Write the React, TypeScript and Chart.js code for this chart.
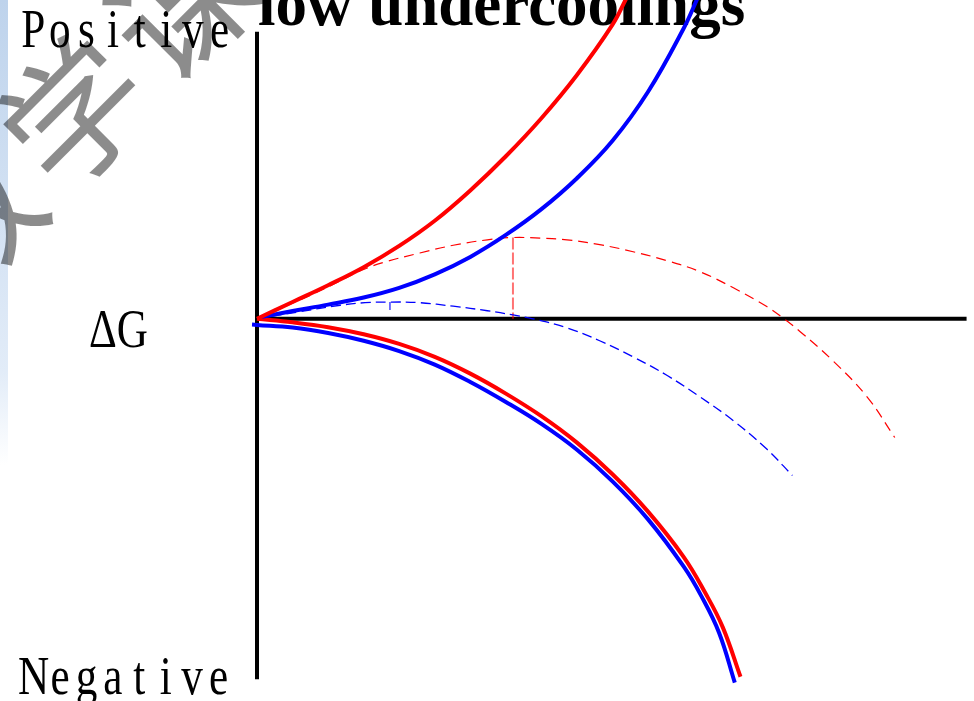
import React, { useEffect, useRef } from "react";
import { Chart, registerables } from "chart.js";

Chart.register(...registerables);

// Embryo radius r (arbitrary units) against free energy ΔG (arbitrary units).
// Surface-energy contributions (positive)
const redSurface: [number, number][] = [
  [0, 0], [5, 2.6], [10, 5.2], [15, 8.0], [20, 11.3], [25, 15.2], [30, 19.9],
  [35, 25.2], [40, 31.1], [45, 37.8], [50, 45.6], [52, 49.8],
];
const blueSurface: [number, number][] = [
  [0.7, 0.3], [5, 1.2], [10, 2.2], [15, 3.3], [20, 4.8], [25, 6.9], [30, 9.6],
  [35, 13.0], [40, 17.0], [45, 21.8], [50, 27.6], [55, 35.2], [60, 45.0], [62, 49.8],
];
// Volume free-energy contributions (negative)
const redVolume: [number, number][] = [
  [0, 0], [5, -0.55], [10, -1.3], [15, -2.4], [20, -3.9], [25, -5.9], [30, -8.5],
  [35, -11.6], [40, -15.1], [45, -19.2], [50, -24.1], [55, -29.9], [60, -36.9],
  [63, -42.4], [65.5, -47.8], [68, -55.5],
];
const blueVolume: [number, number][] = [
  [-0.7, -0.9], [0, -0.95], [5, -1.35], [10, -2.2], [15, -3.4], [20, -5.0],
  [25, -7.1], [30, -9.8], [35, -12.9], [40, -16.3], [45, -20.3], [50, -25.2],
  [55, -31.1], [60, -38.4], [62.5, -43.0], [65, -48.7], [67.2, -56.4],
];
// Total free energy of an embryo (dashed)
const redTotal: [number, number][] = [
  [0, 0], [5.6, 2.7], [10.3, 5.1], [14.9, 7.6], [18.3, 8.9], [22.9, 10.2],
  [27.6, 11.4], [32.4, 12.25], [36.0, 12.6], [39.8, 12.5], [43.6, 12.25],
  [48.2, 11.5], [52.9, 10.4], [57.7, 9.0], [62.3, 7.3], [67.0, 4.8], [71.7, 1.9],
  [74.0, 0.1], [76.4, -2.0], [81.0, -6.5], [85.8, -12.1], [89.7, -18.4],
];
const blueTotal: [number, number][] = [
  [0, 0], [6.0, 1.1], [11.7, 2.1], [15.2, 2.5], [18.7, 2.6], [22.9, 2.5],
  [27.6, 1.95], [32.4, 1.25], [36.0, 0.6], [38.8, 0], [43.6, -1.4], [48.2, -3.4],
  [52.9, -5.9], [57.7, -8.8], [62.3, -12.1], [67.0, -15.8], [71.7, -20.2],
  [75.3, -24.3],
];
// Critical radii: maxima of the total curves
const redCritical: [number, number][] = [[36.0, 12.6], [36.0, 0]];
const blueCritical: [number, number][] = [[18.7, 2.6], [18.7, 0]];

// Axis extents
const X_MIN = 0;
const X_MAX = 100;
const Y_MIN = -56;
const Y_MAX = 44;
const rAxis: [number, number][] = [[0, 0], [99.8, 0]];
const gAxis: [number, number][] = [[0, -55.9], [0, 44.5]];

const TITLE = "low undercoolings";
const POSITIVE = "Positive";
const NEGATIVE = "Negative";
const DELTA_G = "ΔG";
const WATERMARK = "教学课件";

const pts = (a: [number, number][]) => a.map(([x, y]) => ({ x, y }));

function spaced(
  ctx: CanvasRenderingContext2D,
  text: string,
  x0: number,
  adv: number,
  baseline: number,
  sx: number
) {
  for (let i = 0; i < text.length; i++) {
    ctx.save();
    ctx.translate(x0 + adv * (i + 0.5), baseline);
    ctx.scale(sx, 1);
    ctx.textAlign = "center";
    ctx.fillText(text[i], 0, 0);
    ctx.restore();
  }
}

const decorations = {
  id: "decorations",
  beforeDatasetsDraw(chart: any) {
    const ctx: CanvasRenderingContext2D = chart.ctx;
    ctx.save();
    // light blue strip on the left edge
    const g = ctx.createLinearGradient(0, 0, 0, 465);
    g.addColorStop(0, "rgb(190,211,236)");
    g.addColorStop(0.8, "rgb(226,236,248)");
    g.addColorStop(1, "rgba(255,255,255,1)");
    ctx.fillStyle = g;
    ctx.fillRect(0, 0, 8, 465);

    // diagonal watermark
    ctx.save();
    ctx.translate(74, 112);
    ctx.rotate(-Math.PI / 4);
    ctx.font = '140px "Noto Sans CJK SC"';
    ctx.fillStyle = "rgba(0,0,0,0.45)";
    ctx.textAlign = "center";
    ctx.textBaseline = "middle";
    for (let i = 0; i < WATERMARK.length; i++) {
      ctx.fillText(WATERMARK[i], (i - 1) * 152, 0);
    }
    ctx.restore();

    // labels
    ctx.fillStyle = "#000";
    ctx.textBaseline = "alphabetic";
    ctx.font = '54px "Liberation Serif"';
    spaced(ctx, POSITIVE, 20, 26.6, 47, 0.8);
    spaced(ctx, NEGATIVE, 20.5, 26.4, 694, 0.8);
    ctx.save();
    ctx.translate(89, 347);
    ctx.scale(0.8, 1);
    ctx.textAlign = "left";
    ctx.fillText(DELTA_G, 0, 0);
    ctx.restore();

    ctx.font = 'bold 63px "Liberation Serif"';
    ctx.textAlign = "left";
    ctx.fillText(TITLE, 258, 24.5);
    ctx.restore();
  },
};

export default function App() {
  const ref = useRef<HTMLCanvasElement | null>(null);

  useEffect(() => {
    if (!ref.current) return;
    const curve = (
      data: [number, number][],
      color: string,
      w: number,
      dash: number[] = []
    ) => ({
      data: pts(data),
      borderColor: color,
      borderWidth: w,
      borderDash: dash,
      tension: 0.4,
      pointRadius: 0,
      clip: false as const,
    });
    const chart = new Chart(ref.current, {
      type: "line",
      data: {
        datasets: [
          curve(redSurface, "#ff0000", 4),
          curve(blueSurface, "#0000ff", 4),
          curve(redVolume, "#ff0000", 4),
          curve(blueVolume, "#0000ff", 4),
          curve(redTotal, "#ff0000", 1.2, [10, 6]),
          curve(blueTotal, "#0000ff", 1.3, [10, 5]),
          { ...curve(redCritical, "rgba(255,0,0,0.55)", 2, [12, 3]), tension: 0 },
          { ...curve(blueCritical, "rgba(0,0,255,0.7)", 1.6, [8, 9]), tension: 0 },
          { ...curve(rAxis, "#000", 4), tension: 0 },
          { ...curve(gAxis, "#000", 4), tension: 0 },
        ] as any,
      },
      options: {
        responsive: false,
        animation: false,
        layout: { padding: { left: 257, right: 6, top: 35, bottom: 21 } },
        plugins: {
          legend: { display: false },
          tooltip: { enabled: false },
          title: { display: false },
        },
        scales: {
          x: { type: "linear", min: X_MIN, max: X_MAX, display: false },
          y: { type: "linear", min: Y_MIN, max: Y_MAX, display: false },
        },
      },
      plugins: [decorations],
    });
    return () => chart.destroy();
  }, []);

  return (
    <div style={{ position: "absolute", left: 0, top: 0, width: 974, height: 701, background: "#fff" }}>
      <canvas ref={ref} width={974} height={701} style={{ display: "block" }} />
    </div>
  );
}
